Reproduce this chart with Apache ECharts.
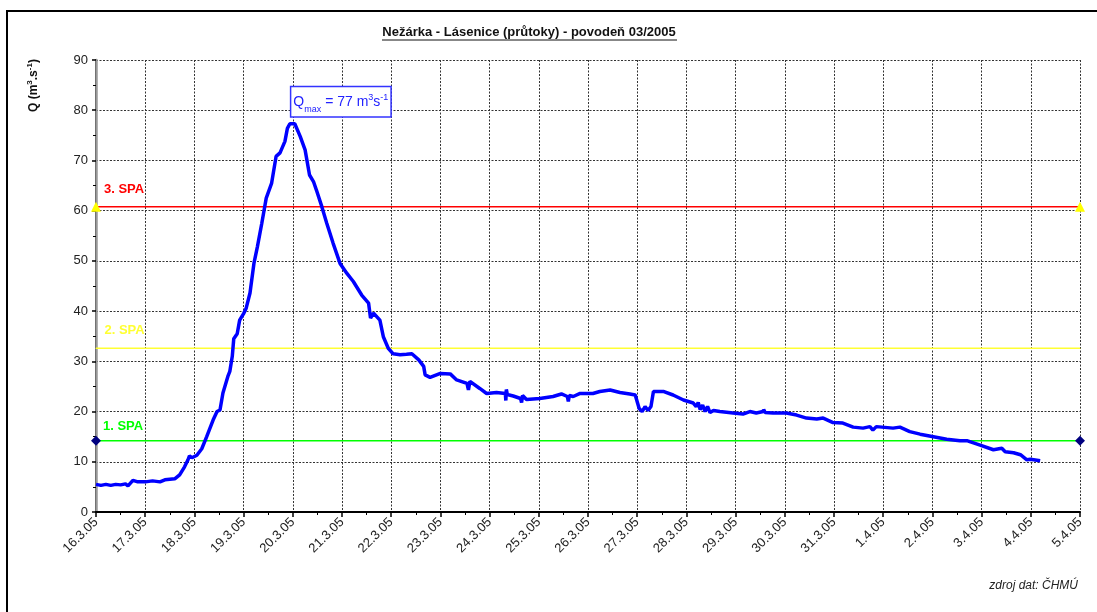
<!DOCTYPE html>
<html>
<head>
<meta charset="utf-8">
<title>Nežárka - Lásenice (průtoky) - povodeň 03/2005</title>
<script src="https://cdn.jsdelivr.net/npm/echarts@6/dist/echarts.min.js"></script>
<style>
  html, body { margin: 0; padding: 0; background: #fff; }
  #chart { width: 1097px; height: 612px; }
</style>
</head>
<body>
<div id="chart"></div>
<script>
// days since 16.3.2005 00:00
var flowDays = [
  0.00, 0.10, 0.20, 0.30, 0.40, 0.50, 0.60, 0.65, 0.75, 0.85, 1.00, 1.15, 1.30, 1.40, 1.50, 1.60,
  1.70, 1.80, 1.87, 1.90, 1.95, 2.05, 2.15, 2.25, 2.38, 2.46, 2.52, 2.58, 2.68, 2.72, 2.77, 2.80,
  2.87, 2.92, 3.00, 3.05, 3.13, 3.21, 3.28, 3.37, 3.46, 3.57, 3.66, 3.74, 3.84, 3.89, 3.94, 4.04,
  4.15, 4.25, 4.34, 4.42, 4.48, 4.59, 4.69, 4.82, 4.96, 5.10, 5.23, 5.40, 5.54, 5.58, 5.64, 5.77,
  5.84, 5.94, 6.04, 6.18, 6.31, 6.42, 6.56, 6.66, 6.69, 6.79, 7.00, 7.20, 7.33, 7.54, 7.57, 7.60,
  7.64, 7.80, 7.94, 8.14, 8.32, 8.33, 8.34, 8.36, 8.48, 8.63, 8.65, 8.67, 8.75, 9.02, 9.29, 9.46,
  9.58, 9.60, 9.62, 9.70, 9.84, 10.10, 10.24, 10.45, 10.65, 10.85, 10.96, 10.99, 11.04, 11.10, 11.16, 11.22,
  11.28, 11.33, 11.53, 11.73, 11.94, 12.14, 12.20, 12.24, 12.28, 12.33, 12.38, 12.43, 12.48, 12.55, 12.68, 12.95,
  13.15, 13.29, 13.42, 13.56, 13.57, 13.60, 13.76, 14.03, 14.24, 14.44, 14.65, 14.78, 14.98, 15.18, 15.39, 15.59,
  15.73, 15.79, 15.86, 16.20, 16.34, 16.54, 16.75, 17.02, 17.29, 17.56, 17.70, 17.97, 18.24, 18.41, 18.48, 18.65,
  18.79, 18.92, 18.99, 19.19
]
// průtok Q (m3/s)
var flowValues = [
  5.5, 5.3, 5.5, 5.3, 5.5, 5.4, 5.6, 5.2, 6.3, 6.0, 6.0, 6.2, 6.0, 6.4, 6.5, 6.6,
  7.4, 9.0, 10.4, 11.2, 10.8, 11.3, 12.6, 15.0, 18.3, 20.0, 20.3, 23.7, 27.0, 28.0, 31.0, 34.5,
  35.5, 38.2, 39.5, 40.5, 43.6, 49.5, 52.8, 57.5, 62.5, 65.5, 70.8, 71.5, 73.8, 76.4, 77.3, 77.3,
  74.8, 72.1, 67.1, 65.8, 64.1, 60.8, 57.5, 53.5, 49.5, 47.5, 45.9, 43.2, 41.6, 38.6, 39.6, 38.2,
  34.9, 32.6, 31.5, 31.3, 31.4, 31.5, 30.3, 29.0, 27.3, 26.8, 27.6, 27.5, 26.3, 25.6, 24.3, 26.0,
  26.3, 24.6, 23.6, 23.8, 23.6, 22.2, 24.4, 23.4, 23.1, 22.6, 21.8, 23.2, 22.4, 22.6, 23.0, 23.5,
  23.0, 22.0, 23.2, 23.0, 23.6, 23.6, 24.0, 24.3, 23.8, 23.5, 23.3, 23.6, 20.6, 20.0, 21.0, 20.2,
  21.0, 24.0, 24.0, 23.3, 22.3, 21.7, 21.0, 21.8, 20.4, 21.3, 20.0, 21.0, 19.8, 20.2, 20.0, 19.7,
  19.5, 20.0, 19.7, 20.0, 20.4, 19.8, 19.7, 19.7, 19.3, 18.7, 18.5, 18.7, 17.8, 17.7, 16.9, 16.7,
  17.0, 16.3, 17.0, 16.7, 16.9, 16.0, 15.5, 15.0, 14.5, 14.2, 14.2, 13.3, 12.4, 12.7, 12.0, 11.8,
  11.4, 10.4, 10.5, 10.2
]
var tickLabels = ['16.3.05', '17.3.05', '18.3.05', '19.3.05', '20.3.05', '21.3.05', '22.3.05',
  '23.3.05', '24.3.05', '25.3.05', '26.3.05', '27.3.05', '28.3.05', '29.3.05', '30.3.05',
  '31.3.05', '1.4.05', '2.4.05', '3.4.05', '4.4.05', '5.4.05']
// stupně povodňové aktivity
var spaNames = ['1. SPA', '2. SPA', '3. SPA']
var spaLevels = [14.2, 32.6, 60.8]

var FONT = 'Liberation Sans, Arial, sans-serif'
var spaColors = ['#00ff00', '#ffff33', '#ff0000']
var spaSymbols = ['diamond', 'circle', 'triangle']
var spaSymbolSizes = [10, 1, 10]
var spaSymbolColors = ['#000080', '#ffff33', '#ffff00']
// label offset from the symbol's top-left corner
var spaLabelPos = [[12, -16], [9, -23.5], [13, -19]]

var flowData = flowDays.map(function(d, i) { return [d, flowValues[i]] })
var peakIdx = flowValues.indexOf(Math.max.apply(null, flowValues))
var lastDay = tickLabels.length - 1

var spaSeries = spaLevels.map(function(v, i) {
  return {
    name: spaNames[i],
    type: 'line',
    data: [
      { value: [0, v], label: { show: true, formatter: spaNames[i], position: spaLabelPos[i] } },
      [lastDay, v]
    ],
    symbol: spaSymbols[i],
    symbolSize: spaSymbolSizes[i],
    itemStyle: { color: spaSymbolColors[i] },
    lineStyle: { color: spaColors[i], width: 1.5 },
    label: {
      show: false,
      color: spaColors[i],
      fontFamily: FONT,
      fontWeight: 'bold',
      fontSize: 13
    },
    z: 3,
    silent: true
  }
})

var myChart = echarts.init(document.getElementById('chart'))
var option = {
  backgroundColor: '#fff',
  animation: false,
  textStyle: { fontFamily: FONT },
  grid: { left: 96, right: 17, top: 60, bottom: 100 },
  xAxis: {
    type: 'value',
    min: 0,
    max: lastDay,
    interval: 1,
    axisLine: { show: true, onZero: false, lineStyle: { color: '#000', width: 2 } },
    axisTick: { show: true, length: 5, lineStyle: { color: '#000', width: 1.5 } },
    minorTick: { show: true, splitNumber: 2, length: 3, lineStyle: { color: '#000' } },
    axisLabel: {
      rotate: 45,
      fontSize: 13,
      color: '#222',
      margin: 8,
      formatter: function(v) { return tickLabels[Math.round(v)] || '' }
    },
    splitLine: { show: true, lineStyle: { color: '#333', type: [2, 1.5], width: 1 } }
  },
  yAxis: [{
    type: 'value',
    min: 0,
    max: 90,
    interval: 10,
    axisLine: { show: true, onZero: false, lineStyle: { color: '#000', width: 2 } },
    axisTick: { show: true, length: 4, lineStyle: { color: '#000', width: 1.5 } },
    minorTick: { show: true, splitNumber: 2, length: 3, lineStyle: { color: '#000' } },
    axisLabel: { fontSize: 13, color: '#222', margin: 8 },
    splitLine: { show: true, lineStyle: { color: '#333', type: [2, 1.5], width: 1 } }
  }, {
    type: 'value',
    position: 'right',
    min: 0,
    max: 90,
    interval: 10,
    axisLine: { show: true, lineStyle: { color: '#999', width: 2.5 } },
    axisTick: { show: false },
    axisLabel: { show: false },
    splitLine: { show: false }
  }],
  series: spaSeries.concat([{
    name: 'Q',
    type: 'line',
    data: flowData,
    symbol: 'none',
    lineStyle: { color: '#0000ff', width: 3.5 },
    z: 5,
    markPoint: {
      symbol: 'rect',
      symbolSize: 1,
      itemStyle: { color: 'rgba(0,0,0,0)' },
      data: [{ coord: flowData[peakIdx] }],
      label: {
        show: true,
        position: [2, -36],
        backgroundColor: '#fff',
        borderColor: '#3333ff',
        borderWidth: 1.5,
        padding: [6, 2, 5, 2],
        formatter: '{a|Q}{s|max}{a| = ' + Math.round(flowValues[peakIdx]) + ' m}{p|3}{a|s}{p|-1}',
        rich: {
          a: { color: '#2222ff', fontSize: 14, fontFamily: FONT, lineHeight: 18, verticalAlign: 'middle' },
          s: { color: '#2222ff', fontSize: 9, fontFamily: FONT, lineHeight: 18, verticalAlign: 'bottom', padding: [0, 0, -3, 0] },
          p: { color: '#2222ff', fontSize: 9, fontFamily: FONT, lineHeight: 18, verticalAlign: 'top' }
        }
      }
    }
  }]),
  graphic: [
    {
      type: 'rect',
      z: -10,
      shape: { x: 7, y: 11, width: 1200, height: 700 },
      style: { fill: 'none', stroke: '#000', lineWidth: 2 }
    },
    {
      type: 'text',
      x: 529,
      y: 26,
      style: {
        text: 'Nežárka - Lásenice (průtoky) - povodeň 03/2005',
        font: 'bold 13px ' + FONT,
        fill: '#111',
        align: 'center'
      }
    },
    {
      type: 'line',
      shape: { x1: 382, y1: 40, x2: 677, y2: 40 },
      style: { stroke: '#111', lineWidth: 1 }
    },
    {
      type: 'text',
      x: 26,
      y: 112,
      rotation: Math.PI / 2,
      style: {
        text: '{b|Q (m}{u|3}{b|.s}{u|-1}{b|)}',
        rich: {
          b: { font: 'bold 12px ' + FONT, fill: '#111', lineHeight: 16, verticalAlign: 'middle' },
          u: { font: 'bold 8px ' + FONT, fill: '#111', lineHeight: 16, verticalAlign: 'top' }
        }
      }
    },
    {
      type: 'text',
      right: 19,
      top: 580,
      style: {
        text: 'zdroj dat: ČHMÚ',
        font: 'italic 12px ' + FONT,
        fill: '#222'
      }
    }
  ]
}
myChart.setOption(option)
window.addEventListener('resize', () => {
  myChart.resize()
}, false)
</script>
</body>
</html>
